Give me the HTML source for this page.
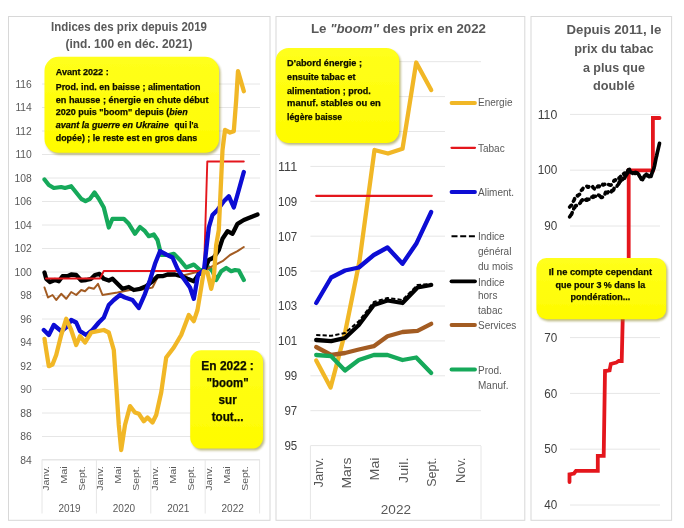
<!DOCTYPE html><html><head><meta charset="utf-8"><title>Indices des prix</title>
<style>html,body{margin:0;padding:0;background:#fff;}body{width:684px;height:528px;overflow:hidden;}svg{display:block;font-family:"Liberation Sans", sans-serif;}</style></head><body>
<svg width="684" height="528" viewBox="0 0 684 528">
<defs><filter id="sh" x="-10%" y="-10%" width="120%" height="120%"><feGaussianBlur stdDeviation="1.3"/></filter><linearGradient id="yg" x1="0" y1="0" x2="0" y2="1"><stop offset="0" stop-color="#FFFF1C"/><stop offset="1" stop-color="#FFFB00"/></linearGradient><filter id="soft"><feGaussianBlur stdDeviation="0.55"/></filter></defs>
<rect width="684" height="528" fill="#fff"/>
<g filter="url(#soft)">
<rect x="8.5" y="16.5" width="261.5" height="503.79999999999995" fill="#fff" stroke="#d8d8d8" stroke-width="1"/>
<rect x="276" y="16.5" width="248.79999999999995" height="503.79999999999995" fill="#fff" stroke="#d8d8d8" stroke-width="1"/>
<rect x="531" y="16.5" width="140.60000000000002" height="503.79999999999995" fill="#fff" stroke="#d8d8d8" stroke-width="1"/>
<line x1="42" x2="260" y1="460.0" y2="460.0" stroke="#e6e6e6" stroke-width="1"/>
<text x="31.8" y="463.7" font-size="10.3" text-anchor="end" font-weight="normal" font-style="normal" fill="#595959" >84</text>
<line x1="42" x2="260" y1="436.5" y2="436.5" stroke="#e6e6e6" stroke-width="1"/>
<text x="31.8" y="440.2" font-size="10.3" text-anchor="end" font-weight="normal" font-style="normal" fill="#595959" >86</text>
<line x1="42" x2="260" y1="413.0" y2="413.0" stroke="#e6e6e6" stroke-width="1"/>
<text x="31.8" y="416.7" font-size="10.3" text-anchor="end" font-weight="normal" font-style="normal" fill="#595959" >88</text>
<line x1="42" x2="260" y1="389.5" y2="389.5" stroke="#e6e6e6" stroke-width="1"/>
<text x="31.8" y="393.2" font-size="10.3" text-anchor="end" font-weight="normal" font-style="normal" fill="#595959" >90</text>
<line x1="42" x2="260" y1="366.0" y2="366.0" stroke="#e6e6e6" stroke-width="1"/>
<text x="31.8" y="369.7" font-size="10.3" text-anchor="end" font-weight="normal" font-style="normal" fill="#595959" >92</text>
<line x1="42" x2="260" y1="342.5" y2="342.5" stroke="#e6e6e6" stroke-width="1"/>
<text x="31.8" y="346.2" font-size="10.3" text-anchor="end" font-weight="normal" font-style="normal" fill="#595959" >94</text>
<line x1="42" x2="260" y1="319.0" y2="319.0" stroke="#e6e6e6" stroke-width="1"/>
<text x="31.8" y="322.7" font-size="10.3" text-anchor="end" font-weight="normal" font-style="normal" fill="#595959" >96</text>
<line x1="42" x2="260" y1="295.5" y2="295.5" stroke="#e6e6e6" stroke-width="1"/>
<text x="31.8" y="299.2" font-size="10.3" text-anchor="end" font-weight="normal" font-style="normal" fill="#595959" >98</text>
<line x1="42" x2="260" y1="272.0" y2="272.0" stroke="#e6e6e6" stroke-width="1"/>
<text x="31.8" y="275.7" font-size="10.3" text-anchor="end" font-weight="normal" font-style="normal" fill="#595959" >100</text>
<line x1="42" x2="260" y1="248.5" y2="248.5" stroke="#e6e6e6" stroke-width="1"/>
<text x="31.8" y="252.2" font-size="10.3" text-anchor="end" font-weight="normal" font-style="normal" fill="#595959" >102</text>
<line x1="42" x2="260" y1="225.0" y2="225.0" stroke="#e6e6e6" stroke-width="1"/>
<text x="31.8" y="228.7" font-size="10.3" text-anchor="end" font-weight="normal" font-style="normal" fill="#595959" >104</text>
<line x1="42" x2="260" y1="201.5" y2="201.5" stroke="#e6e6e6" stroke-width="1"/>
<text x="31.8" y="205.2" font-size="10.3" text-anchor="end" font-weight="normal" font-style="normal" fill="#595959" >106</text>
<line x1="42" x2="260" y1="178.0" y2="178.0" stroke="#e6e6e6" stroke-width="1"/>
<text x="31.8" y="181.7" font-size="10.3" text-anchor="end" font-weight="normal" font-style="normal" fill="#595959" >108</text>
<line x1="42" x2="260" y1="154.5" y2="154.5" stroke="#e6e6e6" stroke-width="1"/>
<text x="31.8" y="158.2" font-size="10.3" text-anchor="end" font-weight="normal" font-style="normal" fill="#595959" >110</text>
<line x1="42" x2="260" y1="131.0" y2="131.0" stroke="#e6e6e6" stroke-width="1"/>
<text x="31.8" y="134.7" font-size="10.3" text-anchor="end" font-weight="normal" font-style="normal" fill="#595959" >112</text>
<line x1="42" x2="260" y1="107.5" y2="107.5" stroke="#e6e6e6" stroke-width="1"/>
<text x="31.8" y="111.2" font-size="10.3" text-anchor="end" font-weight="normal" font-style="normal" fill="#595959" >114</text>
<line x1="42" x2="260" y1="84.0" y2="84.0" stroke="#e6e6e6" stroke-width="1"/>
<text x="31.8" y="87.7" font-size="10.3" text-anchor="end" font-weight="normal" font-style="normal" fill="#595959" >116</text>
<path d="M42 459.5V513.5M96.4 459.5V513.5M150.8 459.5V513.5M205.2 459.5V513.5M259.6 459.5V513.5M42 459.5H259.6" stroke="#e6e6e6" stroke-width="1" fill="none"/>
<text x="69.5" y="511.7" font-size="10" text-anchor="middle" font-weight="normal" font-style="normal" fill="#595959" >2019</text>
<text transform="translate(48.8,466.3) rotate(-90)" font-size="9.6" text-anchor="end" fill="#595959" textLength="24.5" lengthAdjust="spacingAndGlyphs">Janv.</text>
<text transform="translate(66.9,466.3) rotate(-90)" font-size="9.6" text-anchor="end" fill="#595959" textLength="17.5" lengthAdjust="spacingAndGlyphs">Mai</text>
<text transform="translate(85.0,466.3) rotate(-90)" font-size="9.6" text-anchor="end" fill="#595959" textLength="24.5" lengthAdjust="spacingAndGlyphs">Sept.</text>
<text x="123.9" y="511.7" font-size="10" text-anchor="middle" font-weight="normal" font-style="normal" fill="#595959" >2020</text>
<text transform="translate(103.2,466.3) rotate(-90)" font-size="9.6" text-anchor="end" fill="#595959" textLength="24.5" lengthAdjust="spacingAndGlyphs">Janv.</text>
<text transform="translate(121.3,466.3) rotate(-90)" font-size="9.6" text-anchor="end" fill="#595959" textLength="17.5" lengthAdjust="spacingAndGlyphs">Mai</text>
<text transform="translate(139.4,466.3) rotate(-90)" font-size="9.6" text-anchor="end" fill="#595959" textLength="24.5" lengthAdjust="spacingAndGlyphs">Sept.</text>
<text x="178.3" y="511.7" font-size="10" text-anchor="middle" font-weight="normal" font-style="normal" fill="#595959" >2021</text>
<text transform="translate(157.6,466.3) rotate(-90)" font-size="9.6" text-anchor="end" fill="#595959" textLength="24.5" lengthAdjust="spacingAndGlyphs">Janv.</text>
<text transform="translate(175.7,466.3) rotate(-90)" font-size="9.6" text-anchor="end" fill="#595959" textLength="17.5" lengthAdjust="spacingAndGlyphs">Mai</text>
<text transform="translate(193.8,466.3) rotate(-90)" font-size="9.6" text-anchor="end" fill="#595959" textLength="24.5" lengthAdjust="spacingAndGlyphs">Sept.</text>
<text x="232.7" y="511.7" font-size="10" text-anchor="middle" font-weight="normal" font-style="normal" fill="#595959" >2022</text>
<text transform="translate(212.0,466.3) rotate(-90)" font-size="9.6" text-anchor="end" fill="#595959" textLength="24.5" lengthAdjust="spacingAndGlyphs">Janv.</text>
<text transform="translate(230.1,466.3) rotate(-90)" font-size="9.6" text-anchor="end" fill="#595959" textLength="17.5" lengthAdjust="spacingAndGlyphs">Mai</text>
<text transform="translate(248.2,466.3) rotate(-90)" font-size="9.6" text-anchor="end" fill="#595959" textLength="24.5" lengthAdjust="spacingAndGlyphs">Sept.</text>
<text x="129" y="30.9" font-size="13.2" text-anchor="middle" font-weight="bold" font-style="normal" fill="#595959" textLength="156" lengthAdjust="spacingAndGlyphs" >Indices des prix depuis 2019</text>
<text x="129" y="48.2" font-size="13.2" text-anchor="middle" font-weight="bold" font-style="normal" fill="#595959" textLength="127" lengthAdjust="spacingAndGlyphs" >(ind. 100 en déc. 2021)</text>
<polyline points="44.5,179.5 48.8,185.0 53.8,188.0 61.2,187.0 65.0,188.0 71.2,186.2 76.2,192.5 81.2,198.8 85.5,201.2 90.0,198.8 94.5,192.5 98.8,198.8 103.8,207.5 108.8,227.5 112.5,218.8 123.8,218.8 128.8,223.8 135.0,233.8 140.0,227.0 145.0,231.2 148.8,236.2 153.8,234.5 157.5,240.0 161.2,255.0 168.8,255.0 173.8,253.8 180.0,260.0 186.2,267.5 193.8,264.5 200.0,270.0 205.0,270.0 208.8,267.5 212.5,271.2 216.2,280.0 221.2,271.2 226.2,268.0 231.2,271.2 235.0,270.0 238.8,270.5 243.8,280.0" fill="none" stroke="#14A95A" stroke-width="4.2" stroke-linejoin="round" stroke-linecap="round" />
<polyline points="44.5,287.5 48.0,297.5 52.5,295.0 56.2,300.0 61.2,293.8 66.2,298.8 71.2,292.0 76.2,295.0 81.2,290.0 85.0,291.2 88.8,287.5 93.8,288.8 98.0,283.8 102.5,295.0 110.0,293.8 117.5,292.5 130.0,290.0 140.0,290.0 152.5,287.5 157.5,277.5 165.0,276.2 175.0,275.0 185.0,275.0 195.0,272.5 200.0,271.2 205.0,270.0 215.0,265.0 222.5,261.2 230.0,255.0 237.5,251.2 243.8,247.0" fill="none" stroke="#A35C24" stroke-width="2.0" stroke-linejoin="round" stroke-linecap="round" />
<polyline points="44.5,272.5 46.2,278.8 50.0,282.0 55.0,280.0 58.8,281.2 62.5,276.2 67.5,276.2 71.2,274.5 76.2,275.0 81.2,280.5 86.2,280.0 91.2,278.8 95.0,275.0 99.5,273.8 103.8,278.8 108.8,280.5 112.5,278.8 117.5,283.8 122.5,288.8 128.8,287.0 133.8,290.0 140.0,288.8 146.2,286.2 152.5,281.2 157.5,276.2 162.5,276.2 167.5,274.5 175.0,274.5 181.2,276.2 187.5,278.8 193.8,281.2 200.0,272.5 204.0,271.0 208.8,260.0 213.8,257.5 218.8,250.0 222.5,238.8 227.5,231.2 232.5,233.8 237.5,223.8 243.8,220.0 250.0,217.5 257.5,214.5" fill="none" stroke="#000" stroke-width="4.3" stroke-linejoin="round" stroke-linecap="round" />
<polyline points="46.0,278.5 100.0,278.5 103.8,271.0 204.0,271.0 207.3,161.5 243.8,161.5" fill="none" stroke="#E4161E" stroke-width="1.9" stroke-linejoin="round" stroke-linecap="round" />
<polyline points="43.8,330.0 48.8,335.0 53.8,325.0 61.2,331.2 67.5,326.2 71.2,320.0 76.2,322.5 80.0,331.2 86.2,335.0 92.5,330.0 98.8,322.5 103.8,317.5 108.8,305.0 113.8,300.0 120.0,295.0 125.0,297.5 132.5,300.0 138.8,308.0 145.0,293.8 150.0,280.0 155.0,263.8 160.0,251.2 166.2,254.5 172.5,257.5 177.5,268.8 183.8,278.8 190.0,287.5 193.8,298.8 198.0,275.0 204.0,270.0 206.2,250.0 208.8,227.5 212.5,215.0 217.5,210.0 223.8,201.2 228.8,196.2 233.8,207.5 238.8,190.0 243.8,172.0" fill="none" stroke="#0909D4" stroke-width="4.3" stroke-linejoin="round" stroke-linecap="round" />
<polyline points="44.5,338.8 46.2,350.0 48.8,366.2 52.5,364.5 56.2,355.0 61.2,335.0 66.2,318.8 71.2,330.0 76.2,345.0 80.0,336.2 85.0,342.5 91.2,332.5 97.5,331.2 103.8,330.0 108.8,332.5 113.8,350.0 116.2,385.0 118.8,425.0 121.2,450.0 125.0,425.0 130.0,406.2 135.0,412.5 138.8,413.8 143.8,421.2 147.5,417.5 152.5,422.5 156.2,415.0 161.2,392.5 166.2,357.5 170.0,352.5 173.8,347.5 181.2,335.0 188.8,315.0 193.8,321.2 197.5,310.0 201.2,287.5 203.8,271.2 207.5,272.5 211.2,288.8 213.8,277.5 216.2,245.0 218.8,230.0 222.5,150.0 225.0,130.0 230.0,132.5 233.8,131.2 236.2,100.0 238.0,71.2 243.8,91.2" fill="none" stroke="#F1B727" stroke-width="4.3" stroke-linejoin="round" stroke-linecap="round" />
<rect x="46.0" y="58.8" width="174.5" height="96.00000000000001" rx="14" fill="#8a8420" opacity="0.55" filter="url(#sh)"/><rect x="44.5" y="56.8" width="174.5" height="96.00000000000001" rx="14" fill="url(#yg)"/>
<text x="55.7" y="75.2" font-size="9.2" text-anchor="start" font-weight="bold" font-style="normal" fill="#0d0d00" textLength="53" lengthAdjust="spacingAndGlyphs" stroke="#0d0d00" stroke-width="0.25">Avant 2022 :</text>
<text x="55.7" y="89.7" font-size="9.2" text-anchor="start" font-weight="bold" font-style="normal" fill="#0d0d00" textLength="144.8" lengthAdjust="spacingAndGlyphs" stroke="#0d0d00" stroke-width="0.25">Prod. ind. en baisse ; alimentation</text>
<text x="55.7" y="102.6" font-size="9.2" text-anchor="start" font-weight="bold" font-style="normal" fill="#0d0d00" textLength="152.8" lengthAdjust="spacingAndGlyphs" stroke="#0d0d00" stroke-width="0.25">en hausse ; énergie en chute début</text>
<text x="55.7" y="115" font-size="9.2" font-weight="bold" fill="#0d0d00" stroke="#0d0d00" stroke-width="0.25" textLength="132" lengthAdjust="spacingAndGlyphs">2020 puis "boom" depuis (<tspan font-style="italic">bien</tspan></text>
<text x="55.7" y="128.1" font-size="9.2" text-anchor="start" font-weight="bold" font-style="italic" fill="#0d0d00" textLength="113.1" lengthAdjust="spacingAndGlyphs" stroke="#0d0d00" stroke-width="0.25">avant la guerre en Ukraine</text>
<text x="174.5" y="128.1" font-size="9.2" text-anchor="start" font-weight="bold" font-style="normal" fill="#0d0d00" textLength="23.7" lengthAdjust="spacingAndGlyphs" stroke="#0d0d00" stroke-width="0.25">qui l'a</text>
<text x="55.7" y="141" font-size="9.2" text-anchor="start" font-weight="bold" font-style="normal" fill="#0d0d00" textLength="141.6" lengthAdjust="spacingAndGlyphs" stroke="#0d0d00" stroke-width="0.25">dopée) ; le reste est en gros dans</text>
<rect x="191.7" y="352.2" width="72.80000000000001" height="98.40000000000003" rx="11" fill="#8a8420" opacity="0.55" filter="url(#sh)"/><rect x="190.2" y="350.2" width="72.80000000000001" height="98.40000000000003" rx="11" fill="url(#yg)"/>
<text x="227.6" y="370.3" font-size="12" text-anchor="middle" font-weight="bold" font-style="normal" fill="#0d0d00" textLength="52.5" lengthAdjust="spacingAndGlyphs" stroke="#0d0d00" stroke-width="0.25">En 2022 :</text>
<text x="227.6" y="387" font-size="12" text-anchor="middle" font-weight="bold" font-style="normal" fill="#0d0d00" textLength="42" lengthAdjust="spacingAndGlyphs" stroke="#0d0d00" stroke-width="0.25">"boom"</text>
<text x="227.6" y="403.8" font-size="12" text-anchor="middle" font-weight="bold" font-style="normal" fill="#0d0d00" textLength="18.2" lengthAdjust="spacingAndGlyphs" stroke="#0d0d00" stroke-width="0.25">sur</text>
<text x="227.6" y="420.5" font-size="12" text-anchor="middle" font-weight="bold" font-style="normal" fill="#0d0d00" textLength="31.8" lengthAdjust="spacingAndGlyphs" stroke="#0d0d00" stroke-width="0.25">tout...</text>
<line x1="310.4" x2="481" y1="445.6" y2="445.6" stroke="#e6e6e6" stroke-width="1"/>
<line x1="310.4" x2="481" y1="410.7" y2="410.7" stroke="#e6e6e6" stroke-width="1"/>
<line x1="310.4" x2="481" y1="375.8" y2="375.8" stroke="#e6e6e6" stroke-width="1"/>
<line x1="310.4" x2="481" y1="340.9" y2="340.9" stroke="#e6e6e6" stroke-width="1"/>
<line x1="310.4" x2="481" y1="306.0" y2="306.0" stroke="#e6e6e6" stroke-width="1"/>
<line x1="310.4" x2="481" y1="271.1" y2="271.1" stroke="#e6e6e6" stroke-width="1"/>
<line x1="310.4" x2="481" y1="236.2" y2="236.2" stroke="#e6e6e6" stroke-width="1"/>
<line x1="310.4" x2="481" y1="201.3" y2="201.3" stroke="#e6e6e6" stroke-width="1"/>
<line x1="310.4" x2="481" y1="166.4" y2="166.4" stroke="#e6e6e6" stroke-width="1"/>
<line x1="310.4" x2="481" y1="131.5" y2="131.5" stroke="#e6e6e6" stroke-width="1"/>
<line x1="310.4" x2="481" y1="96.6" y2="96.6" stroke="#e6e6e6" stroke-width="1"/>
<line x1="310.4" x2="481" y1="61.7" y2="61.7" stroke="#e6e6e6" stroke-width="1"/>
<text x="297.2" y="450.0" font-size="12" text-anchor="end" font-weight="normal" font-style="normal" fill="#404040" textLength="12.8" lengthAdjust="spacingAndGlyphs" >95</text>
<text x="297.2" y="415.09999999999997" font-size="12" text-anchor="end" font-weight="normal" font-style="normal" fill="#404040" textLength="12.8" lengthAdjust="spacingAndGlyphs" >97</text>
<text x="297.2" y="380.19999999999993" font-size="12" text-anchor="end" font-weight="normal" font-style="normal" fill="#404040" textLength="12.8" lengthAdjust="spacingAndGlyphs" >99</text>
<text x="297.2" y="345.29999999999995" font-size="12" text-anchor="end" font-weight="normal" font-style="normal" fill="#404040" textLength="19.2" lengthAdjust="spacingAndGlyphs" >101</text>
<text x="297.2" y="310.4" font-size="12" text-anchor="end" font-weight="normal" font-style="normal" fill="#404040" textLength="19.2" lengthAdjust="spacingAndGlyphs" >103</text>
<text x="297.2" y="275.5" font-size="12" text-anchor="end" font-weight="normal" font-style="normal" fill="#404040" textLength="19.2" lengthAdjust="spacingAndGlyphs" >105</text>
<text x="297.2" y="240.6" font-size="12" text-anchor="end" font-weight="normal" font-style="normal" fill="#404040" textLength="19.2" lengthAdjust="spacingAndGlyphs" >107</text>
<text x="297.2" y="205.70000000000002" font-size="12" text-anchor="end" font-weight="normal" font-style="normal" fill="#404040" textLength="19.2" lengthAdjust="spacingAndGlyphs" >109</text>
<text x="297.2" y="170.8" font-size="12" text-anchor="end" font-weight="normal" font-style="normal" fill="#404040" textLength="19.2" lengthAdjust="spacingAndGlyphs" >111</text>
<path d="M310.4 446V519M481 446V519" stroke="#e6e6e6" stroke-width="1" fill="none"/>
<text transform="translate(322.5,457.6) rotate(-90)" font-size="12" text-anchor="end" fill="#595959" textLength="30" lengthAdjust="spacingAndGlyphs">Janv.</text>
<text transform="translate(350.9,457.6) rotate(-90)" font-size="12" text-anchor="end" fill="#595959" textLength="31" lengthAdjust="spacingAndGlyphs">Mars</text>
<text transform="translate(379.3,457.6) rotate(-90)" font-size="12" text-anchor="end" fill="#595959" textLength="22.8" lengthAdjust="spacingAndGlyphs">Mai</text>
<text transform="translate(407.7,457.6) rotate(-90)" font-size="12" text-anchor="end" fill="#595959" textLength="25.4" lengthAdjust="spacingAndGlyphs">Juil.</text>
<text transform="translate(436.1,457.6) rotate(-90)" font-size="12" text-anchor="end" fill="#595959" textLength="29.2" lengthAdjust="spacingAndGlyphs">Sept.</text>
<text transform="translate(464.5,457.6) rotate(-90)" font-size="12" text-anchor="end" fill="#595959" textLength="25.4" lengthAdjust="spacingAndGlyphs">Nov.</text>
<text x="395.9" y="513.8" font-size="12" text-anchor="middle" font-weight="normal" font-style="normal" fill="#595959" textLength="30.2" lengthAdjust="spacingAndGlyphs" >2022</text>
<text x="398.5" y="32.7" font-size="13.2" text-anchor="middle" font-weight="bold" fill="#595959" textLength="175" lengthAdjust="spacingAndGlyphs">Le <tspan font-style="italic">"boom"</tspan> des prix en 2022</text>
<polyline points="316.2,360.5 330.6,387.5 345.0,333.0 359.5,261.0 374.5,150.0 388.0,153.5 402.5,148.8 416.2,62.5 431.2,90.0" fill="none" stroke="#F1B727" stroke-width="4.3" stroke-linejoin="round" stroke-linecap="round" />
<polyline points="316.2,195.8 431.8,195.8" fill="none" stroke="#E4161E" stroke-width="2.2" stroke-linejoin="round" stroke-linecap="round" />
<polyline points="316.2,303.0 331.2,277.5 345.0,270.5 358.8,267.5 373.8,255.0 387.5,247.5 402.5,263.8 416.2,243.8 431.2,212.0" fill="none" stroke="#0909D4" stroke-width="4.3" stroke-linejoin="round" stroke-linecap="round" />
<polyline points="316.2,335.0 331.2,335.8 345.0,333.0 358.8,321.2 373.8,302.0 387.5,298.0 402.5,300.0 417.5,285.0 431.2,283.8" fill="none" stroke="#000" stroke-width="2.0" stroke-linejoin="round" stroke-linecap="butt" stroke-dasharray="4.2 2.2"/>
<polyline points="316.2,340.0 331.2,341.2 345.0,338.0 358.8,325.0 373.8,305.0 387.5,300.5 402.5,303.0 417.5,287.5 431.2,285.0" fill="none" stroke="#000" stroke-width="4.3" stroke-linejoin="round" stroke-linecap="round" />
<polyline points="316.2,347.0 331.2,355.0 345.0,353.0 358.8,349.5 373.8,346.2 387.5,336.2 402.5,332.0 417.5,330.8 431.2,323.8" fill="none" stroke="#A35C24" stroke-width="4.3" stroke-linejoin="round" stroke-linecap="round" />
<polyline points="316.2,355.0 331.2,356.2 345.0,370.5 358.8,360.0 373.8,355.0 387.5,355.0 402.5,360.0 416.2,357.5 431.2,373.0" fill="none" stroke="#14A95A" stroke-width="4.3" stroke-linejoin="round" stroke-linecap="round" />
<rect x="445" y="86" width="78" height="316" fill="#fff"/>
<line x1="451.5" x2="475" y1="103" y2="103" stroke="#F1B727" stroke-width="3.8" stroke-linecap="round"/>
<text x="478" y="106.4" font-size="10" text-anchor="start" font-weight="normal" font-style="normal" fill="#595959" >Energie</text>
<line x1="451.5" x2="475" y1="147.8" y2="147.8" stroke="#E4161E" stroke-width="2.2" stroke-linecap="round"/>
<text x="478" y="151.6" font-size="10" text-anchor="start" font-weight="normal" font-style="normal" fill="#595959" >Tabac</text>
<line x1="451.5" x2="475" y1="192" y2="192" stroke="#0909D4" stroke-width="3.8" stroke-linecap="round"/>
<text x="478" y="196.2" font-size="10" text-anchor="start" font-weight="normal" font-style="normal" fill="#595959" >Aliment.</text>
<line x1="451.5" x2="475" y1="236.3" y2="236.3" stroke="#000" stroke-width="2.1" stroke-linecap="butt" stroke-dasharray="6 2.7"/>
<text x="478" y="240" font-size="10" text-anchor="start" font-weight="normal" font-style="normal" fill="#595959" >Indice</text>
<text x="478" y="254.8" font-size="10" text-anchor="start" font-weight="normal" font-style="normal" fill="#595959" >général</text>
<text x="478" y="269.5" font-size="10" text-anchor="start" font-weight="normal" font-style="normal" fill="#595959" >du mois</text>
<line x1="451.5" x2="475" y1="281.3" y2="281.3" stroke="#000" stroke-width="3.8" stroke-linecap="round"/>
<text x="478" y="286" font-size="10" text-anchor="start" font-weight="normal" font-style="normal" fill="#595959" >Indice</text>
<text x="478" y="299.4" font-size="10" text-anchor="start" font-weight="normal" font-style="normal" fill="#595959" >hors</text>
<text x="478" y="314" font-size="10" text-anchor="start" font-weight="normal" font-style="normal" fill="#595959" >tabac</text>
<line x1="451.5" x2="475" y1="325" y2="325" stroke="#A35C24" stroke-width="3.8" stroke-linecap="round"/>
<text x="478" y="328.6" font-size="10" text-anchor="start" font-weight="normal" font-style="normal" fill="#595959" >Services</text>
<line x1="451.5" x2="475" y1="369.5" y2="369.5" stroke="#14A95A" stroke-width="3.8" stroke-linecap="round"/>
<text x="478" y="373.5" font-size="10" text-anchor="start" font-weight="normal" font-style="normal" fill="#595959" >Prod.</text>
<text x="478" y="389" font-size="10" text-anchor="start" font-weight="normal" font-style="normal" fill="#595959" >Manuf.</text>
<rect x="277.2" y="50" width="123.60000000000002" height="95" rx="13" fill="#8a8420" opacity="0.55" filter="url(#sh)"/><rect x="275.7" y="48" width="123.60000000000002" height="95" rx="13" fill="url(#yg)"/>
<text x="287.1" y="66.4" font-size="9.2" text-anchor="start" font-weight="bold" font-style="normal" fill="#0d0d00" textLength="74.9" lengthAdjust="spacingAndGlyphs" stroke="#0d0d00" stroke-width="0.25">D'abord énergie ;</text>
<text x="287.1" y="79.7" font-size="9.2" text-anchor="start" font-weight="bold" font-style="normal" fill="#0d0d00" textLength="68.4" lengthAdjust="spacingAndGlyphs" stroke="#0d0d00" stroke-width="0.25">ensuite tabac et</text>
<text x="287.1" y="93.8" font-size="9.2" text-anchor="start" font-weight="bold" font-style="normal" fill="#0d0d00" textLength="83.7" lengthAdjust="spacingAndGlyphs" stroke="#0d0d00" stroke-width="0.25">alimentation ; prod.</text>
<text x="287.1" y="106.4" font-size="9.2" text-anchor="start" font-weight="bold" font-style="normal" fill="#0d0d00" textLength="93.8" lengthAdjust="spacingAndGlyphs" stroke="#0d0d00" stroke-width="0.25">manuf.  stables ou en</text>
<text x="287.1" y="119.7" font-size="9.2" text-anchor="start" font-weight="bold" font-style="normal" fill="#0d0d00" textLength="55.1" lengthAdjust="spacingAndGlyphs" stroke="#0d0d00" stroke-width="0.25">légère baisse</text>
<line x1="570" x2="660" y1="505.0" y2="505.0" stroke="#e6e6e6" stroke-width="1"/>
<text x="557.3" y="509.2" font-size="12" text-anchor="end" font-weight="normal" font-style="normal" fill="#404040" textLength="13" lengthAdjust="spacingAndGlyphs" >40</text>
<line x1="570" x2="660" y1="449.2" y2="449.2" stroke="#e6e6e6" stroke-width="1"/>
<text x="557.3" y="453.4" font-size="12" text-anchor="end" font-weight="normal" font-style="normal" fill="#404040" textLength="13" lengthAdjust="spacingAndGlyphs" >50</text>
<line x1="570" x2="660" y1="393.4" y2="393.4" stroke="#e6e6e6" stroke-width="1"/>
<text x="557.3" y="397.59999999999997" font-size="12" text-anchor="end" font-weight="normal" font-style="normal" fill="#404040" textLength="13" lengthAdjust="spacingAndGlyphs" >60</text>
<line x1="570" x2="660" y1="337.6" y2="337.6" stroke="#e6e6e6" stroke-width="1"/>
<text x="557.3" y="341.8" font-size="12" text-anchor="end" font-weight="normal" font-style="normal" fill="#404040" textLength="13" lengthAdjust="spacingAndGlyphs" >70</text>
<line x1="570" x2="660" y1="281.8" y2="281.8" stroke="#e6e6e6" stroke-width="1"/>
<text x="557.3" y="286.0" font-size="12" text-anchor="end" font-weight="normal" font-style="normal" fill="#404040" textLength="13" lengthAdjust="spacingAndGlyphs" >80</text>
<line x1="570" x2="660" y1="226.0" y2="226.0" stroke="#e6e6e6" stroke-width="1"/>
<text x="557.3" y="230.2" font-size="12" text-anchor="end" font-weight="normal" font-style="normal" fill="#404040" textLength="13" lengthAdjust="spacingAndGlyphs" >90</text>
<line x1="570" x2="660" y1="170.2" y2="170.2" stroke="#e6e6e6" stroke-width="1"/>
<text x="557.3" y="174.39999999999998" font-size="12" text-anchor="end" font-weight="normal" font-style="normal" fill="#404040" textLength="19.6" lengthAdjust="spacingAndGlyphs" >100</text>
<line x1="570" x2="660" y1="114.4" y2="114.4" stroke="#e6e6e6" stroke-width="1"/>
<text x="557.3" y="118.59999999999998" font-size="12" text-anchor="end" font-weight="normal" font-style="normal" fill="#404040" textLength="19.6" lengthAdjust="spacingAndGlyphs" >110</text>
<text x="613.9" y="33.8" font-size="13" text-anchor="middle" font-weight="bold" font-style="normal" fill="#595959" textLength="94.7" lengthAdjust="spacingAndGlyphs" >Depuis 2011, le</text>
<text x="613.9" y="52.6" font-size="13" text-anchor="middle" font-weight="bold" font-style="normal" fill="#595959" textLength="79.4" lengthAdjust="spacingAndGlyphs" >prix du tabac</text>
<text x="613.9" y="71.7" font-size="13" text-anchor="middle" font-weight="bold" font-style="normal" fill="#595959" textLength="62" lengthAdjust="spacingAndGlyphs" >a plus que</text>
<text x="613.9" y="90.4" font-size="13" text-anchor="middle" font-weight="bold" font-style="normal" fill="#595959" textLength="41.7" lengthAdjust="spacingAndGlyphs" >doublé</text>
<polyline points="569.5,482.0 569.5,474.3 574.0,473.5 576.0,470.8 597.8,470.8 597.8,455.8 603.7,455.8 605.0,371.0 609.6,370.4 610.8,364.0 616.3,362.5 618.7,361.0 621.7,361.0 622.7,320.0 622.7,300.0 628.7,290.0 628.7,170.4 652.9,170.4 652.9,118.0 659.5,118.0" fill="none" stroke="#E4161E" stroke-width="3.8" stroke-linejoin="miter" stroke-linecap="round" />
<polyline points="569.6,207.1 570.2,206.5 570.9,205.5 571.5,205.4 572.1,203.4 572.8,202.0 573.4,201.2 574.1,200.1 574.8,198.3 575.5,197.4 576.2,196.2 576.9,195.5 577.6,195.9 578.3,195.2 579.0,194.7 579.6,194.4 580.3,193.1 580.9,191.8 581.5,190.0 582.2,189.8 582.8,188.7 583.4,187.6 584.0,187.4 584.5,186.9 585.1,186.8 585.7,186.7 586.4,186.3 587.0,186.3 587.7,187.3 588.4,187.2 589.1,186.5 589.7,186.6 590.4,185.9 591.1,186.2 591.7,186.4 592.4,186.3 593.1,187.6 593.8,188.2 594.4,188.8 595.1,188.2 595.8,187.6 596.4,188.3 597.0,187.2 597.7,186.3 598.4,186.0 599.0,186.6 599.6,186.1 600.2,185.0 600.9,185.3 601.5,185.7 602.1,185.5 602.7,184.5 603.3,185.0 604.0,184.5 604.6,184.3 605.2,184.2 605.9,183.9 606.5,184.4 607.1,184.6 607.8,184.0 608.4,184.6 609.0,184.8 609.7,184.8 610.3,185.1 610.9,185.1 611.6,184.5 612.2,183.3 612.8,182.7 613.5,181.8 614.1,180.4 614.7,180.2 615.4,180.4 616.0,179.0 616.6,179.1 617.3,179.2 617.9,179.0 618.5,178.0 619.2,178.3 619.8,177.3 620.4,176.7 621.1,175.8 621.7,174.5 622.3,174.1 622.9,174.4 623.5,173.7 624.2,174.5 624.8,173.1 625.4,173.2 626.1,173.2 626.7,171.5 627.4,171.0 628.0,170.3 628.7,170.2" fill="none" stroke="#000" stroke-width="3.6" stroke-linejoin="round" stroke-linecap="round" stroke-dasharray="2.8 4.5"/>
<polyline points="569.6,216.8 570.2,216.1 570.9,214.9 571.5,214.5 572.1,212.8 572.8,211.6 573.4,209.7 574.0,207.9 574.7,207.8 575.3,205.9 575.9,205.5 576.6,205.6 577.2,205.0 577.8,204.2 578.5,203.9 579.1,203.7 579.7,203.5 580.4,202.7 581.0,201.5 581.6,200.5 582.2,199.9 582.9,200.0 583.5,199.8 584.1,198.8 584.7,198.6 585.4,198.8 586.1,200.2 586.8,199.1 587.4,200.0 588.1,199.2 588.8,199.3 589.5,199.1 590.1,198.0 590.8,197.0 591.4,196.9 592.0,197.1 592.7,197.3 593.3,196.2 593.9,196.9 594.5,196.4 595.1,196.2 595.8,196.2 596.4,194.9 597.0,194.4 597.7,194.7 598.4,195.1 599.1,195.3 599.7,195.9 600.4,196.5 601.1,197.4 601.8,197.5 602.4,197.2 603.1,196.6 603.7,195.8 604.3,195.1 605.0,194.0 605.6,192.3 606.2,192.6 606.8,192.3 607.5,192.8 608.1,192.0 608.7,191.6 609.3,192.7 609.9,192.7 610.6,192.3 611.2,191.8 611.8,190.7 612.5,190.9 613.1,190.4 613.7,189.6 614.3,187.9 614.8,187.7 615.4,187.6 616.0,187.5 616.7,187.0 617.4,185.4 618.1,184.6 618.8,183.7 619.4,182.3 620.1,181.5 620.7,180.1 621.3,180.0 622.0,179.9" fill="none" stroke="#000" stroke-width="3.6" stroke-linejoin="round" stroke-linecap="round" stroke-dasharray="5 4.1"/>
<polyline points="619.4,182.3 620.1,181.5 620.7,180.1 621.3,180.0 622.0,179.9 622.6,179.4 623.2,178.5 623.9,178.3 624.5,178.2 625.1,176.8 625.8,175.9 626.4,174.3 627.0,174.0 627.5,171.9 628.1,170.8 628.7,169.8 629.4,169.5 630.0,171.4 630.7,172.3 631.3,172.6 632.0,172.7 632.6,173.4 633.3,172.8 633.9,173.0 634.6,172.6 635.2,173.4 635.9,172.5 636.5,173.1 637.2,172.9 637.8,173.4 638.5,174.3 639.1,175.3 639.8,176.7 640.5,177.4 641.2,179.0 641.8,178.4 642.5,179.6 643.1,178.4 643.8,177.6 644.4,175.9 645.0,175.8 645.7,174.8 646.3,174.3 647.0,175.3 647.6,175.9 648.3,175.4 649.0,176.7 649.7,176.5 650.3,176.3 651.0,176.3 651.6,174.5 652.2,172.7 652.7,170.9 653.3,169.9 653.9,168.4 654.6,165.3 655.3,161.8 656.0,158.4 656.7,155.5 657.4,152.2 658.1,149.4 658.8,146.4 659.5,143.3" fill="none" stroke="#000" stroke-width="3.7" stroke-linejoin="round" stroke-linecap="round" />
<rect x="537.9" y="260.1" width="129.80000000000007" height="61.099999999999966" rx="10" fill="#8a8420" opacity="0.55" filter="url(#sh)"/><rect x="536.4" y="258.1" width="129.80000000000007" height="61.099999999999966" rx="10" fill="url(#yg)"/>
<text x="600.4" y="275.1" font-size="9" text-anchor="middle" font-weight="bold" font-style="normal" fill="#0d0d00" textLength="103.3" lengthAdjust="spacingAndGlyphs" stroke="#0d0d00" stroke-width="0.25">Il ne compte cependant</text>
<text x="600.4" y="287.7" font-size="9" text-anchor="middle" font-weight="bold" font-style="normal" fill="#0d0d00" textLength="89.7" lengthAdjust="spacingAndGlyphs" stroke="#0d0d00" stroke-width="0.25">que pour 3 % dans la</text>
<text x="600.4" y="300.1" font-size="9" text-anchor="middle" font-weight="bold" font-style="normal" fill="#0d0d00" textLength="59.7" lengthAdjust="spacingAndGlyphs" stroke="#0d0d00" stroke-width="0.25">pondération...</text>
</g></svg></body></html>
